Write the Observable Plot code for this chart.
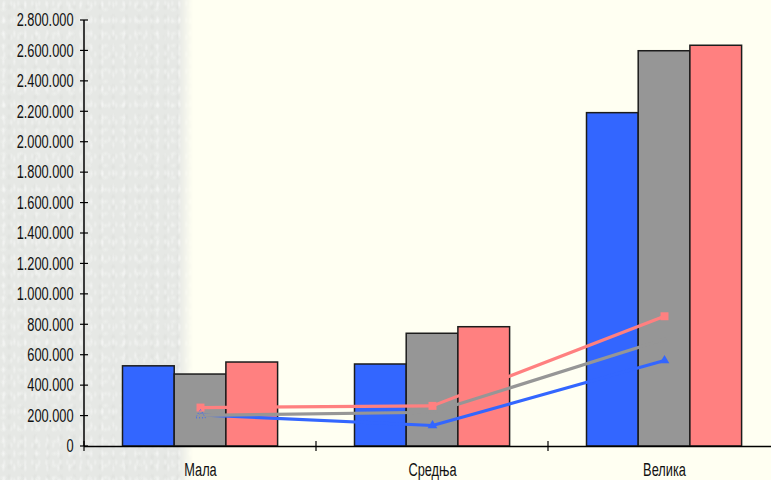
<!DOCTYPE html>
<html><head><meta charset="utf-8">
<script src="https://cdn.jsdelivr.net/npm/d3@7"></script>
<script src="https://cdn.jsdelivr.net/npm/@observablehq/plot@0.6"></script>
<style>
html,body{margin:0;padding:0;background:#fffff2;width:771px;height:480px;overflow:hidden;}
#tex{position:absolute;left:0;top:0;width:194px;height:480px;background-color:#e6e8e5;
 background-image:
  radial-gradient(ellipse 2px 5px at 30% 40%, rgba(255,255,255,.45), rgba(255,255,255,0)),
  radial-gradient(ellipse 3px 4px at 70% 70%, rgba(205,207,203,.25), rgba(205,207,203,0)),
  radial-gradient(ellipse 2px 4px at 60% 20%, rgba(255,255,255,.35), rgba(255,255,255,0)),
  radial-gradient(ellipse 4px 3px at 20% 80%, rgba(250,251,249,.35), rgba(250,251,249,0));
 background-size: 11px 14px, 13px 10px, 7px 17px, 17px 12px;
 -webkit-mask-image: linear-gradient(to right, #000 0, #000 178px, rgba(0,0,0,0) 193px);
 mask-image: linear-gradient(to right, #000 0, #000 178px, rgba(0,0,0,0) 193px);}
#chart{position:absolute;left:0;top:0}
</style></head><body><div id="tex"></div><div id="chart"></div>
<script>
// Data
const categories = ["Мала", "Средња", "Велика"];
const barBlue = [527000, 539000, 2191000];
const barGray = [473000, 741000, 2598000];
const barPink = [552000, 784000, 2634000];
const lineBlue = [207000, 138000, 565000];
const lineGray = [205000, 225000, 705000];
const linePink = [256000, 267000, 856000];
const yTicks = [0, 200000, 400000, 600000, 800000, 1000000, 1200000, 1400000,
  1600000, 1800000, 2000000, 2200000, 2400000, 2600000, 2800000];

// Styles
const BLUE = "#3366ff", GRAY = "#969696", PINK = "#ff8080";
const BAND = 232, PAD = 38.5, BW = 51.7;
const fmt = d3.formatLocale({decimal: ",", thousands: ".", grouping: [3], currency: ["", ""]}).format(",");
const FONT = "'Liberation Sans', Arial, sans-serif";

function bars(vals, k, color) {
  return Plot.barY(categories, {
    x: d => d, y: (d, i) => vals[i], fill: color, stroke: "#1c1c1c", strokeWidth: 1.5,
    insetLeft: PAD + k * BW, insetRight: BAND - PAD - (k + 1) * BW
  });
}

function axisLines(index, scales, values, dimensions) {
  const {marginLeft, marginTop, height, marginBottom} = dimensions;
  const y0 = height - marginBottom;
  const g = d3.create("svg:g").attr("stroke", "#000");
  g.append("line").attr("x1", marginLeft).attr("x2", marginLeft)
    .attr("y1", marginTop).attr("y2", y0).attr("stroke-width", 1.5);
  for (const t of yTicks) {
    const y = scales.y(t);
    g.append("line").attr("x1", marginLeft - 4).attr("x2", marginLeft + 4)
      .attr("y1", y).attr("y2", y).attr("stroke-width", 1.2);
  }
  for (const c of categories) {
    const x = scales.x(c);
    g.append("line").attr("x1", x).attr("x2", x)
      .attr("y1", y0 - 5).attr("y2", y0 + 5).attr("stroke-width", 1.2);
  }
  return g.node();
}

const chart = Plot.plot({
  width: 771, height: 480,
  marginLeft: 84, marginRight: 0, marginTop: 20, marginBottom: 34,
  style: {background: "transparent", fontFamily: FONT, overflow: "visible"},
  x: {type: "band", domain: categories, range: [84, 780], padding: 0},
  y: {domain: [0, 2800000]},
  marks: [
    bars(barBlue, 0, BLUE),
    bars(barGray, 1, GRAY),
    bars(barPink, 2, PINK),
    Plot.ruleY([0], {stroke: "#000", strokeWidth: 1.5}),
    axisLines,
    Plot.line(categories, {x: d => d, y: (d, i) => lineBlue[i], stroke: BLUE, strokeWidth: 3.2}),
    Plot.line(categories, {x: d => d, y: (d, i) => lineGray[i], stroke: GRAY, strokeWidth: 3.2}),
    Plot.line(categories, {x: d => d, y: (d, i) => linePink[i], stroke: PINK, strokeWidth: 3.2}),
    Plot.dot(categories, {x: d => d, y: (d, i) => linePink[i], symbol: "square", fill: PINK, r: 4.5}),
    Plot.dot(categories, {x: d => d, y: (d, i) => lineBlue[i], symbol: "triangle", fill: BLUE, r: 3.6,
      filter: (d, i) => i > 0}),
    Plot.dot(categories, {x: d => d, y: (d, i) => lineBlue[i], symbol: "triangle", fill: "none",
      stroke: BLUE, strokeWidth: 1, strokeDasharray: "1,2", r: 3.6, filter: (d, i) => i === 0}),
    Plot.axisY(yTicks, {tickSize: 0, tickPadding: 11, tickFormat: fmt, fontSize: 18,
      fill: "#111", label: null}),
    Plot.axisX({tickSize: 0, tickPadding: 17, fontSize: 18, fill: "#111", label: null})
  ]
});
document.getElementById("chart").appendChild(chart);
// condense the lettering horizontally, like the reference's narrow type
chart.querySelectorAll("text").forEach(t => {
  const L = t.getComputedTextLength();
  if (L > 0) {
    t.setAttribute("textLength", (L * 0.71).toFixed(2));
    t.setAttribute("lengthAdjust", "spacingAndGlyphs");
  }
});
</script></body></html>
